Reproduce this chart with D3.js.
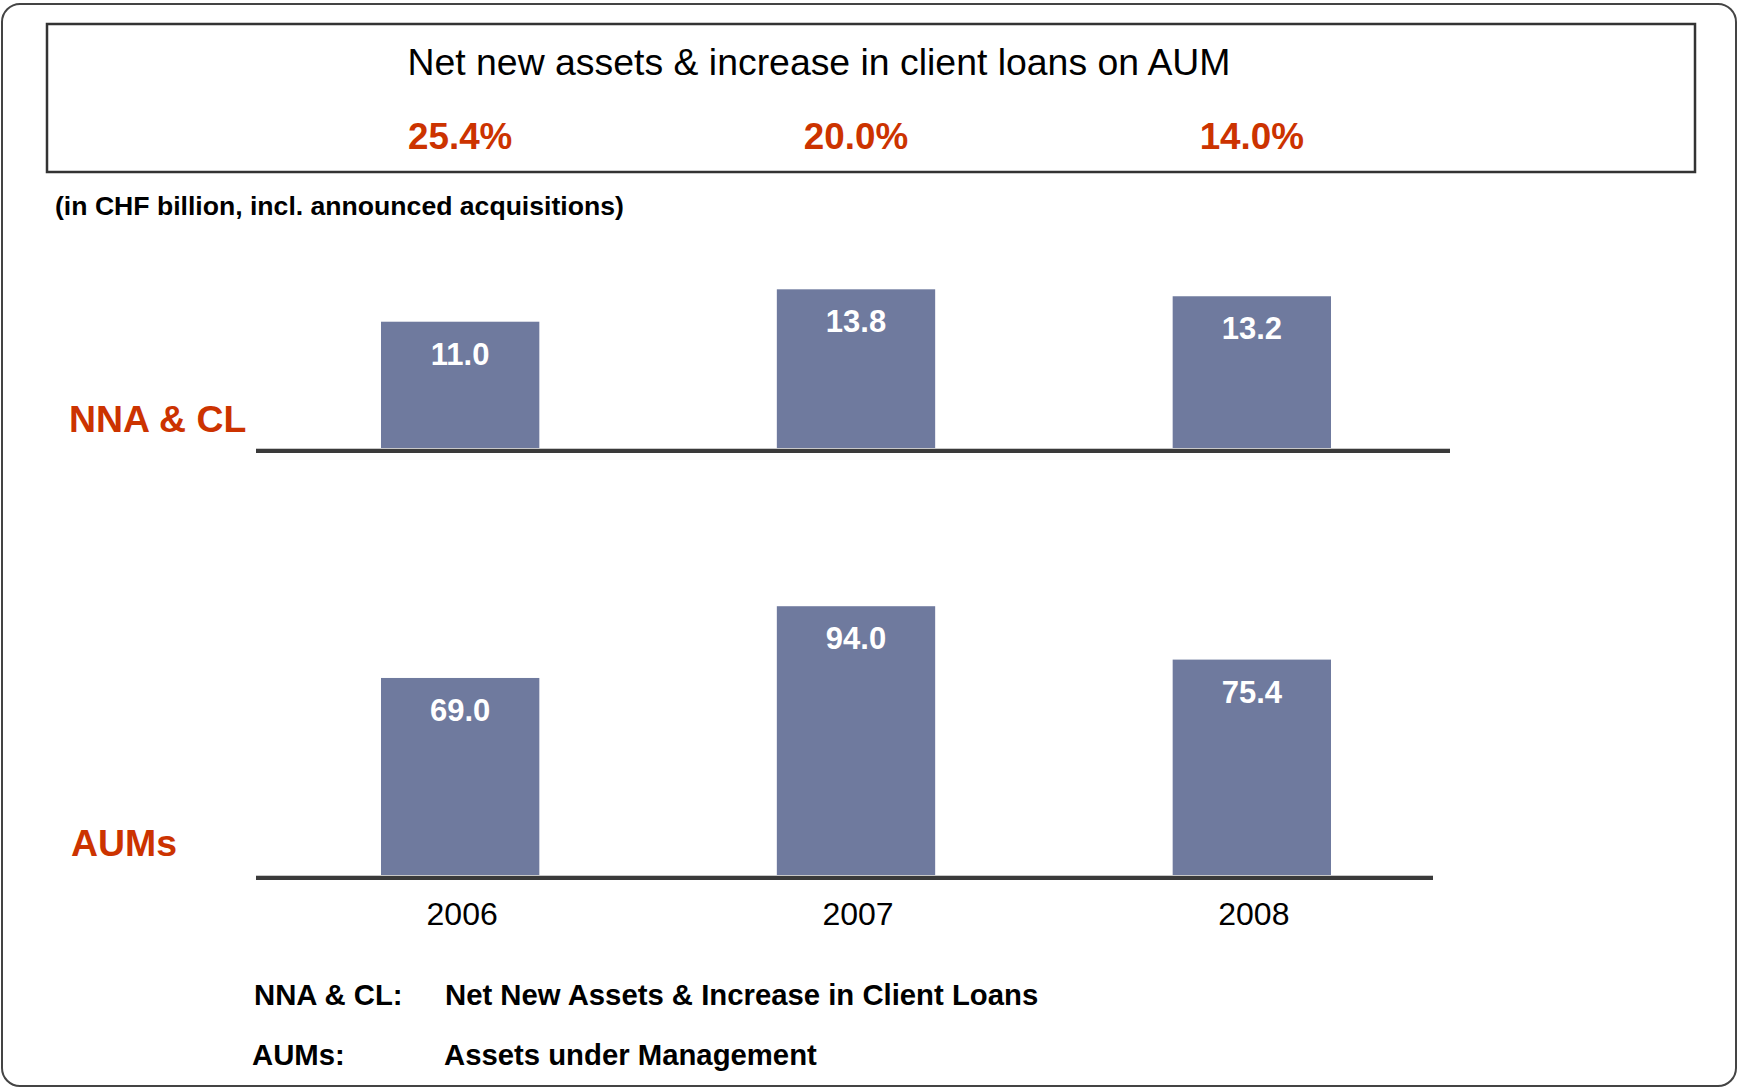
<!DOCTYPE html>
<html>
<head>
<meta charset="utf-8">
<script src="https://cdn.jsdelivr.net/npm/d3@7"></script>
<style>
  html, body { margin: 0; padding: 0; background: #fff; }
  svg { display: block; font-family: "Liberation Sans", Arial, Helvetica, sans-serif; }
</style>
</head>
<body>
<svg id="chart" width="1738" height="1089"></svg>
<script>
// Years shown on the category axis
const years = ["2006", "2007", "2008"];
// Net new assets & increase in client loans (CHF bn)
const nnaValues = [11.0, 13.8, 13.2];
// Assets under management (CHF bn)
const aumValues = [69.0, 94.0, 75.4];
// Ratio of NNA & CL to AUM, shown in the header box
const ratioLabels = ["25.4%", "20.0%", "14.0%"];
// Row captions and the glossary beneath the chart
const rowLabels = ["NNA & CL", "AUMs"];
const glossaryTerms = ["NNA & CL:", "AUMs:"];
const glossaryText = ["Net New Assets & Increase in Client Loans", "Assets under Management"];
const headerTitle = "Net new assets & increase in client loans on AUM";
const unitNote = "(in CHF billion, incl. announced acquisitions)";

const RED = "#CC3300";
const BAR = "#6F7A9E";

const svg = d3.select("#chart");

// Outer rounded frame
svg.append("rect")
  .attr("x", 2).attr("y", 4).attr("width", 1734).attr("height", 1082)
  .attr("rx", 18).attr("ry", 18)
  .attr("fill", "#fff").attr("stroke", "#444").attr("stroke-width", 2);

// Header box
svg.append("rect")
  .attr("x", 47).attr("y", 24).attr("width", 1648).attr("height", 148)
  .attr("fill", "#fff").attr("stroke", "#333").attr("stroke-width", 2.5);

svg.append("text")
  .attr("x", 819).attr("y", 75)
  .attr("text-anchor", "middle")
  .attr("font-size", 37.4)
  .attr("fill", "#000")
  .text(headerTitle);

// Shared horizontal band scale for the three years
const x = d3.scaleBand()
  .domain(years)
  .range([381, 1331])
  .paddingInner(0.6)
  .paddingOuter(0);

// Ratios centred over each year
svg.append("g").selectAll("text")
  .data(ratioLabels)
  .join("text")
  .attr("x", (d, i) => x(years[i]) + x.bandwidth() / 2)
  .attr("y", 149)
  .attr("text-anchor", "middle")
  .attr("font-size", 36.8)
  .attr("font-weight", "bold")
  .attr("fill", RED)
  .text(d => d);

svg.append("text")
  .attr("x", 55).attr("y", 215)
  .attr("font-size", 26.6)
  .attr("font-weight", "bold")
  .attr("fill", "#000")
  .text(unitNote);

// Draws one bar row: bars, baseline, value labels and row caption
function drawRow(values, y, axisY, lineEnd, caption, captionX, captionY) {
  const g = svg.append("g");

  g.selectAll("rect.bar")
    .data(values)
    .join("rect")
    .attr("class", "bar")
    .attr("x", (d, i) => x(years[i]))
    .attr("width", x.bandwidth())
    .attr("y", d => y(d))
    .attr("height", d => y(0) - y(d))
    .attr("fill", BAR);

  // baseline with a faint highlight above it
  g.append("line")
    .attr("x1", 256).attr("x2", lineEnd)
    .attr("y1", axisY - 2.5).attr("y2", axisY - 2.5)
    .attr("stroke", "#c8c8c8").attr("stroke-width", 1);
  g.append("line")
    .attr("x1", 256).attr("x2", lineEnd)
    .attr("y1", axisY).attr("y2", axisY)
    .attr("stroke", "#3a3a3a").attr("stroke-width", 4);

  g.selectAll("text.val")
    .data(values)
    .join("text")
    .attr("class", "val")
    .attr("x", (d, i) => x(years[i]) + x.bandwidth() / 2)
    .attr("y", d => y(d) + 43)
    .attr("text-anchor", "middle")
    .attr("font-size", 31)
    .attr("font-weight", "bold")
    .attr("fill", "#fff")
    .text(d => d.toFixed(1));

  g.append("text")
    .attr("x", captionX).attr("y", captionY)
    .attr("font-size", 37.4)
    .attr("font-weight", "bold")
    .attr("fill", RED)
    .text(caption);
}

// Top row: NNA & CL
const yTop = d3.scaleLinear().domain([0, 14]).range([449, 287]);
drawRow(nnaValues, yTop, 451, 1450, rowLabels[0], 69, 432);

// Bottom row: AUMs
const yBottom = d3.scaleLinear().domain([0, 100]).range([876, 589]);
drawRow(aumValues, yBottom, 878, 1433, rowLabels[1], 71, 856);

// Year labels under the bottom row
const xAxis = d3.axisBottom(x).tickSize(0).tickPadding(0);
const axisG = svg.append("g")
  .attr("transform", "translate(2,901)")
  .call(xAxis);
axisG.select(".domain").remove();
axisG.selectAll("text")
  .attr("font-family", "\"Liberation Sans\", Arial, sans-serif")
  .attr("font-size", 32)
  .attr("fill", "#000")
  .attr("dy", "0.74em");

// Glossary
const gloss = svg.append("g");
gloss.selectAll("text.term")
  .data(glossaryTerms)
  .join("text")
  .attr("class", "term")
  .attr("x", (d, i) => i === 0 ? 254 : 252)
  .attr("y", (d, i) => i === 0 ? 1005 : 1065)
  .attr("font-size", 29.3)
  .attr("font-weight", "bold")
  .text(d => d);
gloss.selectAll("text.desc")
  .data(glossaryText)
  .join("text")
  .attr("class", "desc")
  .attr("x", (d, i) => i === 0 ? 445 : 444)
  .attr("y", (d, i) => i === 0 ? 1005 : 1065)
  .attr("font-size", 29.3)
  .attr("font-weight", "bold")
  .text(d => d);
</script>
</body>
</html>
